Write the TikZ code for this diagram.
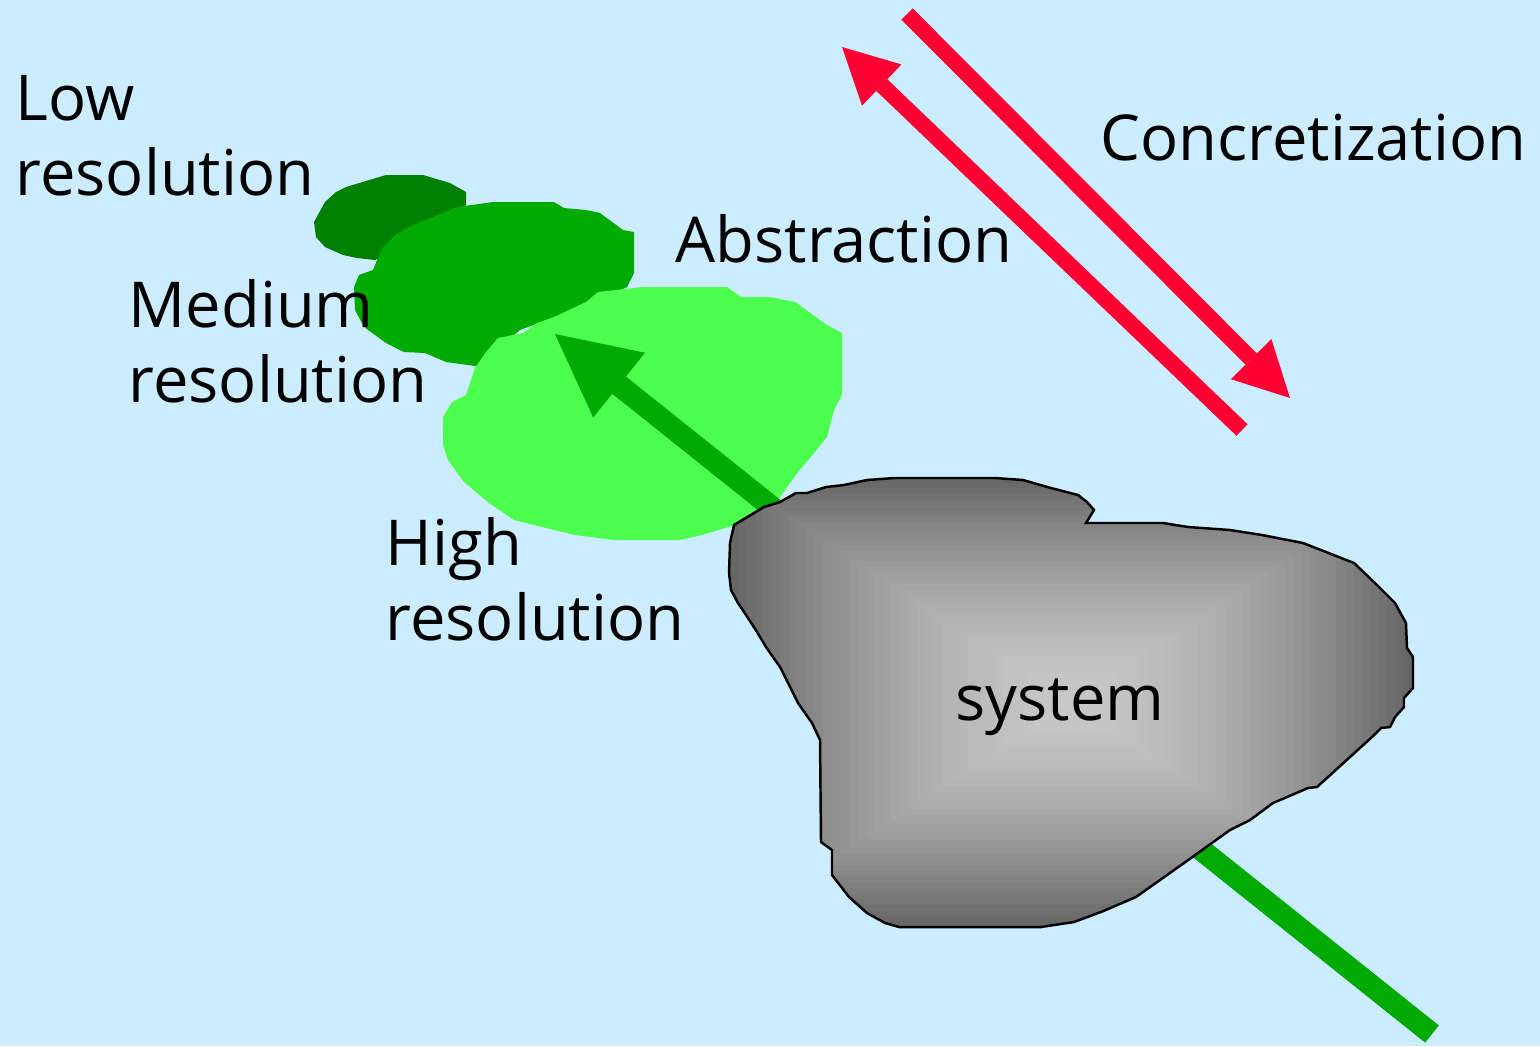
\documentclass[tikz,border=0pt]{standalone}
\usepackage{fontspec}
\setmainfont{Open Sans}
\usetikzlibrary{arrows.meta}

\definecolor{sky}{HTML}{CCECFF}
\definecolor{lowgreen}{HTML}{008000}
\definecolor{midgreen}{HTML}{00AA00}
\definecolor{highgreen}{HTML}{4CFF4C}
\definecolor{flowred}{HTML}{FF0033}
\definecolor{sysdark}{HTML}{666666}
\definecolor{syslight}{HTML}{C8C8C8}

\begin{document}
\begin{tikzpicture}[x=0.1mm,y=-0.1mm,
  words/.style={inner sep=0pt,anchor=base west,align=left,
    font=\fontsize{18}{21.3}\selectfont},
  redarrow/.style={flowred,line width=1.6mm,
    -{Triangle[length=5.5mm,width=5.7mm,line width=0pt]}},
  greenarrow/.style={midgreen,line width=2.2mm,
    -{Triangle[length=8.2mm,width=8.3mm,line width=0pt]}}]

\useasboundingbox (0,0) rectangle (1540,1046);
\fill[sky] (0,0) rectangle (1540,1046);

% the three models, coarse to fine
\fill[lowgreen] (336,192) -- (346,187) -- (386,175) -- (423,175) -- (450,183)
  -- (466,192) -- (466,205) -- (457,215) -- (420,240) -- (375,260) -- (357,258)
  -- (343,255) -- (325,247) -- (316,237) -- (314,222) -- (325,202) -- cycle;
\fill[midgreen] (382,248) -- (395,235) -- (407,228) -- (418,223) -- (457,207)
  -- (493,202) -- (554,202) -- (564,208) -- (586,210) -- (600,213) -- (623,230)
  -- (634,232) -- (634,273) -- (627,287) -- (600,300) -- (520,330) -- (479,365)
  -- (475,366) -- (446,362) -- (425,353) -- (404,352) -- (386,343) -- (364,327)
  -- (355,310) -- (354,287) -- (359,275) -- (373,270) -- cycle;
\fill[highgreen] (598,292) -- (643,287) -- (727,287) -- (741,297) -- (770,297)
  -- (795,302) -- (827,325) -- (842,333) -- (842,395) -- (834,410) -- (827,437)
  -- (814,453) -- (798,472) -- (780,497) -- (765,512) -- (735,525) -- (702,535)
  -- (680,540) -- (614,540) -- (575,535) -- (546,528) -- (514,520) -- (489,503)
  -- (464,482) -- (448,460) -- (443,445) -- (443,417) -- (452,402) -- (466,395)
  -- (475,368) -- (486,352) -- (498,338) -- (523,333) -- (537,323) -- (554,317)
  -- (586,302) -- cycle;

% abstraction and concretization
\coordinate (abs tail) at (1242,430);
\coordinate (abs tip) at (842,47);
\coordinate (con tail) at (907,14);
\coordinate (con tip) at (1290,398);
\draw[redarrow] (abs tail) -- (abs tip);
\draw[redarrow] (con tail) -- (con tip);

\coordinate (up tail) at (1432,1034);
\coordinate (up tip) at (555,334);
\draw[greenarrow] (up tail) -- (up tip);

% the system, shaded from the middle out
\draw[line width=0.7pt,path picture={
    \foreach \i in {0,...,40} {
      \pgfmathsetmacro\t{1-\i/40}
      \pgfmathsetmacro\p{100*\t^1.6}
      \fill[sysdark!\p!syslight] ({1071-342*\t},{702-225*\t})
        rectangle ({1071+342*\t},{702+225*\t});
    }}]
  (734,525) -- (764,507) -- (780,502) -- (796,493) -- (807,493) -- (826,487)
  -- (844,485) -- (867,480) -- (894,478) -- (995,478) -- (1023,480) -- (1051,488)
  -- (1078,495) -- (1087,502) -- (1094,510) -- (1086,523) -- (1163,523)
  -- (1188,527) -- (1230,530) -- (1262,535) -- (1303,543) -- (1326,552)
  -- (1354,563) -- (1377,585) -- (1395,603) -- (1406,623) -- (1407,648)
  -- (1413,657) -- (1413,688) -- (1404,698) -- (1404,707) -- (1395,717)
  -- (1390,727) -- (1381,728) -- (1372,737) -- (1317,787) -- (1308,788)
  -- (1273,803) -- (1250,820) -- (1230,830) -- (1184,863) -- (1136,897)
  -- (1101,912) -- (1074,922) -- (1041,927) -- (899,927) -- (885,923)
  -- (867,913) -- (849,897) -- (832,875) -- (832,850) -- (821,842) -- (820,740)
  -- (812,723) -- (798,703) -- (780,667) -- (766,647) -- (757,632) -- (748,618)
  -- (738,603) -- (731,590) -- (729,573) -- (730,543) -- cycle;

% two-line labels sit on the baseline of their last line
\node[words] (low) at (15,195) {Low\\resolution};
\node[words] (medium) at (128,402) {Medium\\resolution};
\node[words] (high) at (385,640) {High\\resolution};
\node[words] (abstr) at (675,262) {Abstraction};
\node[words] (concr) at (1100,160) {Concretization};
\node[words] (system) at (955,720) {system};
\end{tikzpicture}
\end{document}
